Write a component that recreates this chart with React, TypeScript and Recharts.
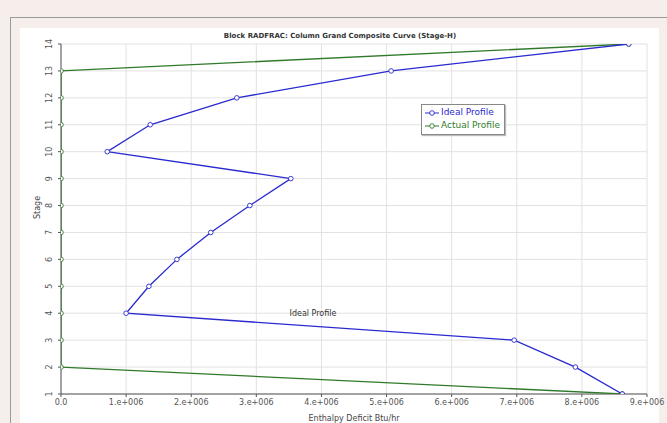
import {
  ScatterChart, Scatter, XAxis, YAxis, CartesianGrid, ReferenceDot,
} from "recharts"

// stage numbers, bottom to top
const stages = [1, 2, 3, 4, 5, 6, 7, 8, 9, 10, 11, 12, 13, 14]
// enthalpy deficit, Btu/hr
const idealDeficit = [8.62e6, 7.9e6, 6.96e6, 1.0e6, 1.35e6, 1.78e6, 2.3e6, 2.9e6, 3.53e6, 0.71e6, 1.37e6, 2.7e6, 5.07e6, 8.72e6]
const actualDeficit = [8.62e6, 0, 0, 0, 0, 0, 0, 0, 0, 0, 0, 0, 0, 8.72e6]

const xTicks = [0, 1e6, 2e6, 3e6, 4e6, 5e6, 6e6, 7e6, 8e6, 9e6]
const xTickLabels = ["0.0", "1.e+006", "2.e+006", "3.e+006", "4.e+006", "5.e+006", "6.e+006", "7.e+006", "8.e+006", "9.e+006"]

const idealData = stages.map((s, i) => ({ x: idealDeficit[i], y: s }))
const actualData = stages.map((s, i) => ({ x: actualDeficit[i], y: s }))

const BLUE = "#2a2ad0"
const GREEN = "#2f7a2a"
const FONT = "'DejaVu Sans', sans-serif"

function Dot({ cx, cy, color }: any) {
  return <circle cx={cx} cy={cy} r={2.3} fill="#fff" stroke={color} strokeWidth={0.9} />
}

function YTick({ x, y, payload }: any) {
  return (
    <text x={x - 4} y={y} transform={`rotate(-90 ${x - 4} ${y})`} textAnchor="middle"
      fontSize={8} fill="#555" fontFamily={FONT}>
      {payload.value}
    </text>
  )
}

function LegendBox() {
  const row = (label: string, color: string) => (
    <div style={{ display: "flex", alignItems: "center", gap: 2, color, lineHeight: "13px" }}>
      <svg width={14} height={8}>
        <line x1={0} y1={4} x2={14} y2={4} stroke={color} strokeWidth={1} />
        <circle cx={7} cy={4} r={2.3} fill="#fff" stroke={color} strokeWidth={0.9} />
      </svg>
      {label}
    </div>
  )
  return (
    <div style={{
      position: "absolute", left: 421, top: 104,
      border: "1px solid #888", background: "#fff", padding: "1px 4px 2px 3px",
      fontSize: 9, fontFamily: FONT, boxShadow: "1px 1px 1px #bbb",
    }}>
      {row("Ideal Profile", BLUE)}
      {row("Actual Profile", GREEN)}
    </div>
  )
}

export default function App() {
  return (
    <div style={{ position: "fixed", left: 0, top: 0, width: 667, height: 423, background: "#f5eeea", overflow: "hidden" }}>
      <div style={{ position: "absolute", left: 10, top: 17, right: -2, bottom: -2, borderTop: "1px solid #9a9a9a", borderLeft: "1px solid #9a9a9a" }} />
      <div style={{ position: "absolute", left: 20, top: 28, width: 639, height: 400, background: "#fff" }} />
      <div style={{
        position: "absolute", left: 0, top: 32, width: 680, textAlign: "center",
        fontSize: 7, fontWeight: "bold", fontFamily: FONT, color: "#333",
      }}>
        Block RADFRAC: Column Grand Composite Curve (Stage-H)
      </div>
      <div style={{ position: "absolute", left: 0, top: 0 }}>
        <ScatterChart width={667} height={423} margin={{ top: 44, right: 20, bottom: 0, left: 31 }}>
          <CartesianGrid stroke="#e2e2e2" strokeWidth={1} />
          <XAxis
            type="number" dataKey="x" domain={[0, 9e6]} ticks={xTicks} allowDataOverflow
            tickFormatter={(v: number) => xTickLabels[xTicks.indexOf(v)]}
            height={29} stroke="#555" tickSize={3}
            tick={{ fontSize: 8, fill: "#555", fontFamily: FONT }}
            label={{ value: "Enthalpy Deficit Btu/hr", position: "insideBottom", offset: 2, fontSize: 8, fill: "#444", fontFamily: FONT }}
          />
          <YAxis
            type="number" dataKey="y" domain={[1, 14]} ticks={stages} allowDataOverflow
            width={30} stroke="#555" tickSize={3} tick={<YTick />}
            label={{ value: "Stage", angle: -90, position: "insideLeft", offset: 6, fontSize: 8, fill: "#444", fontFamily: FONT }}
          />
          <Scatter name="Actual Profile" data={actualData} line={{ stroke: GREEN, strokeWidth: 1.3 }}
            lineType="joint" shape={<Dot color={GREEN} />} isAnimationActive={false} />
          <Scatter name="Ideal Profile" data={idealData} line={{ stroke: BLUE, strokeWidth: 1.3 }}
            lineType="joint" shape={<Dot color={BLUE} />} isAnimationActive={false} />
          <ReferenceDot x={3.87e6} y={4} r={0} ifOverflow="visible"
            label={{ value: "Ideal Profile", position: "center", fontSize: 8, fill: "#333", fontFamily: FONT }} />
        </ScatterChart>
      </div>
      <LegendBox />
    </div>
  )
}
